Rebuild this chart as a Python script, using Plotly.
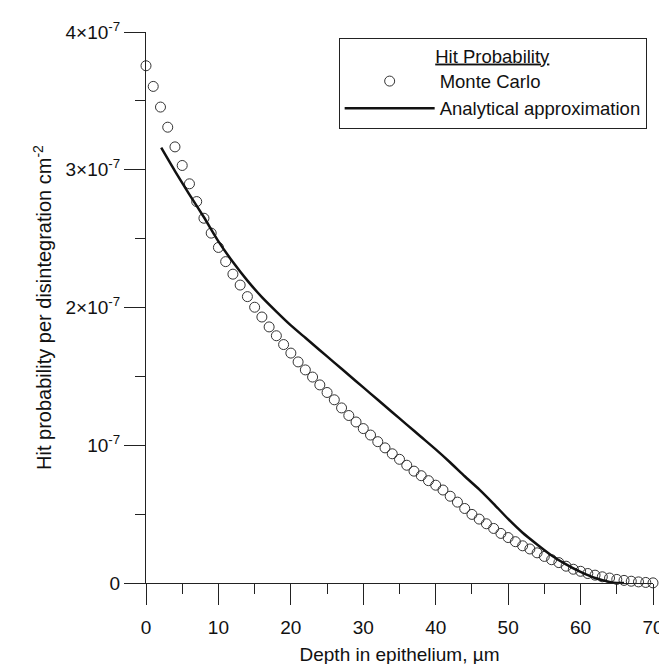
import plotly.graph_objects as go

# Monte Carlo points (depth in µm, value in units of 1e-7)
depth_mc = list(range(0, 71))
mc_vals = [3.755, 3.605, 3.455, 3.309, 3.166, 3.031, 2.898, 2.769, 2.648, 2.540,
           2.436, 2.333, 2.242, 2.163, 2.079, 2.002, 1.931, 1.859, 1.795, 1.731,
           1.669, 1.605, 1.547, 1.495, 1.438, 1.383, 1.330, 1.271, 1.216, 1.169,
           1.121, 1.074, 1.026, 0.981, 0.938, 0.898, 0.855, 0.812, 0.779, 0.743,
           0.710, 0.675, 0.630, 0.587, 0.541, 0.498, 0.464, 0.430, 0.396, 0.360,
           0.330, 0.300, 0.270, 0.247, 0.219, 0.193, 0.169, 0.148, 0.122, 0.100,
           0.085, 0.069, 0.057, 0.045, 0.036, 0.026, 0.019, 0.013, 0.008, 0.004, 0.001]

# Analytical approximation (depth in µm, value in units of 1e-7)
depth_an = [2.1, 4, 6, 8, 10, 12, 14, 16, 18, 20, 22, 24, 26, 28, 30, 32, 34, 36,
            38, 40, 42, 44, 46, 48, 50, 52, 54, 56, 58, 60, 62, 64, 65, 66]
an_vals = [3.16, 2.99, 2.82, 2.655, 2.48, 2.33, 2.195, 2.075, 1.97, 1.87, 1.78,
           1.69, 1.60, 1.51, 1.42, 1.33, 1.24, 1.15, 1.06, 0.97, 0.875, 0.775,
           0.68, 0.575, 0.465, 0.365, 0.28, 0.20, 0.135, 0.08, 0.036, 0.008, 0.0, 0.0]

UNIT = 1e-7
y_tickvals = [0, 1, 2, 3, 4]
y_ticktext = ["0", "10<sup>-7</sup>", "2×10<sup>-7</sup>", "3×10<sup>-7</sup>", "4×10<sup>-7</sup>"]
x_tickvals = [0, 10, 20, 30, 40, 50, 60, 70]

FONT = "Liberation Sans, Arial, sans-serif"
INK = "#111111"

fig = go.Figure()
fig.add_trace(go.Scatter(
    x=depth_mc, y=[v * UNIT for v in mc_vals], mode="markers", name="Monte Carlo",
    marker=dict(symbol="circle-open", size=10, color="#333333", line=dict(width=1, color="#333333")),
    cliponaxis=False,
))
fig.add_trace(go.Scatter(
    x=depth_an, y=[v * UNIT for v in an_vals], mode="lines", name="Analytical approximation",
    line=dict(color=INK, width=2.5, shape="spline", smoothing=0.6),
    cliponaxis=False,
))

fig.update_layout(
    width=667, height=664,
    margin=dict(l=138, r=11, t=24, b=81),
    paper_bgcolor="white", plot_bgcolor="white",
    font=dict(family=FONT, size=18, color=INK),
    showlegend=True,
    legend=dict(
        x=0.38, y=0.99, xanchor="left", yanchor="top",
        bordercolor="#222222", borderwidth=1, bgcolor="white",
        font=dict(family=FONT, size=18.5, color=INK),
        itemwidth=90,
        title=dict(text="<u>Hit Probability</u>", side="top center",
                   font=dict(family=FONT, size=18.5, color=INK)),
        tracegroupgap=0,
    ),
    xaxis=dict(
        range=[0, 70], tickvals=x_tickvals, ticks="outside", ticklen=21, tickwidth=1,
        tickcolor="#222222", showline=True, linecolor="#222222", linewidth=1.2,
        showgrid=False, zeroline=False, ticklabelstandoff=6,
        minor=dict(dtick=5, ticks="outside", ticklen=10, tickwidth=1, tickcolor="#222222"),
        title=dict(text="Depth in epithelium, µm", standoff=10,
                   font=dict(family=FONT, size=19)),
        tickfont=dict(family=FONT, size=19),
    ),
    yaxis=dict(
        range=[0, 4 * UNIT], tickvals=[v * UNIT for v in y_tickvals], ticktext=y_ticktext,
        ticks="outside", ticklen=21, tickwidth=1, tickcolor="#222222",
        showline=True, linecolor="#222222", linewidth=1.2, showgrid=False, zeroline=False,
        minor=dict(dtick=0.5 * UNIT, ticks="outside", ticklen=10, tickwidth=1, tickcolor="#222222"),
        title=dict(text="Hit probability per disintegration cm<sup>-2</sup>", standoff=8,
                   font=dict(family=FONT, size=20)),
        tickfont=dict(family=FONT, size=19),
    ),
)

fig.write_html("out.html")
